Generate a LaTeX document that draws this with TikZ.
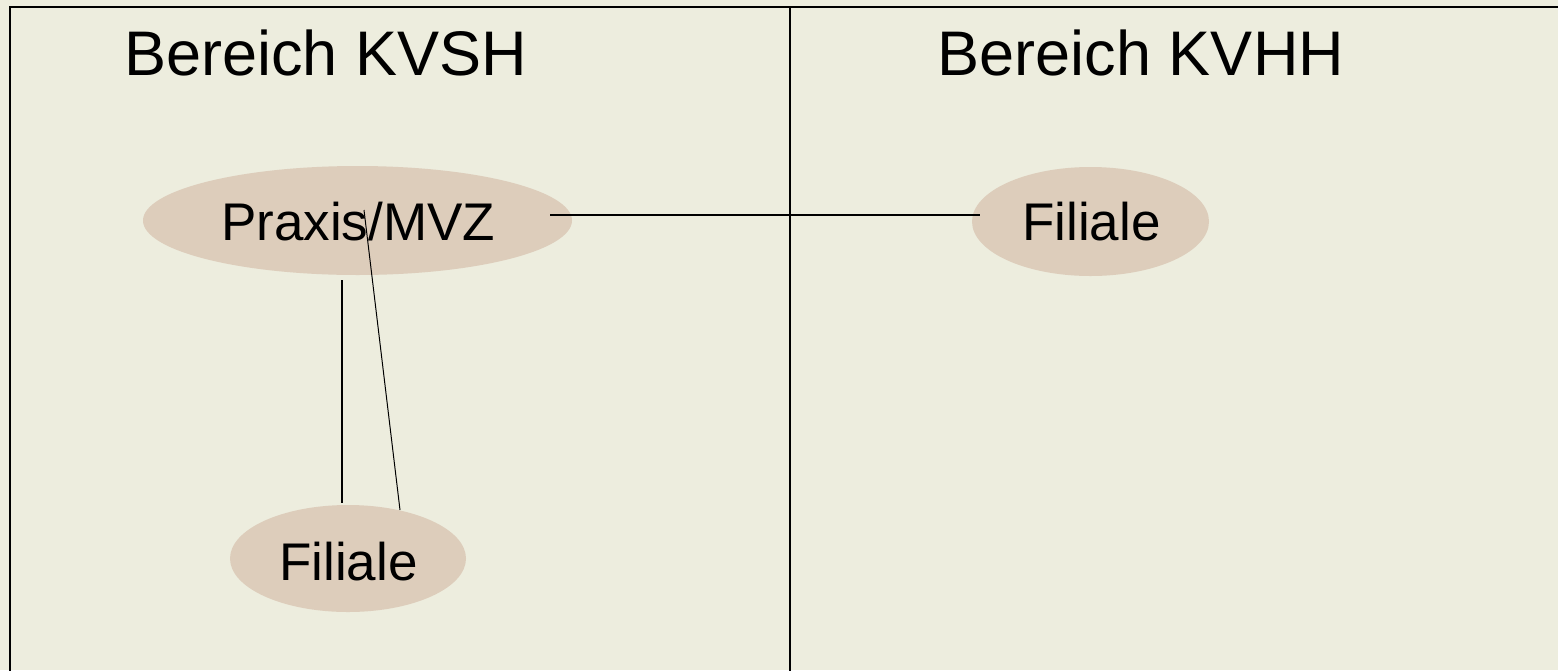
\documentclass[tikz,border=0pt]{standalone}
\usepackage{fontspec}
\setmainfont{Liberation Sans}
\definecolor{bg}{HTML}{EDEDDE}
\definecolor{ell}{HTML}{DDCDBB}
\begin{document}
\begin{tikzpicture}[x=1pt,y=-1pt,
  oval/.style={ellipse, fill=ell, inner sep=0pt},
  lbl/.style={anchor=base, inner sep=0pt, font=\fontsize{63}{70}\selectfont},
  txt/.style={anchor=base, inner sep=0pt, font=\fontsize{53}{60}\selectfont},
  conn/.style={draw=black, line width=1.2pt}]
\fill[bg] (0,0) rectangle (1558,670);
\useasboundingbox (0,0) rectangle (1558,670);
\draw[line width=2pt] (10,680) -- (10,7) -- (1570,7);
\draw[line width=1.5pt] (790,7) -- (790,680);
\node[lbl] (t1) at (325.5,75) {Bereich KVSH};
\node[lbl] (t2) at (1141,75) {Bereich KVHH};
\fill[ell] (357.5,220.5) ellipse [x radius=214.5, y radius=54.5];
\fill[ell] (1090.5,221.5) ellipse [x radius=118.5, y radius=54.5];
\fill[ell] (348,558.5) ellipse [x radius=118, y radius=53.5];
\node[txt] (p) at (358,240) {Praxis/MVZ};
\node[txt] (f1) at (1091.5,240) {Filiale};
\node[txt] (f2) at (348.5,580) {Filiale};
\coordinate (a1) at (550,215);
\coordinate (a2) at (980,215);
\coordinate (b1) at (342,280);
\coordinate (b2) at (342,503);
\coordinate (c1) at (364,210);
\coordinate (c2) at (400,510);
\draw[line width=1.5pt] (a1) -- (a2);
\draw[line width=1.5pt] (b1) -- (b2);
\draw[line width=1pt] (c1) -- (c2);
\end{tikzpicture}
\end{document}
